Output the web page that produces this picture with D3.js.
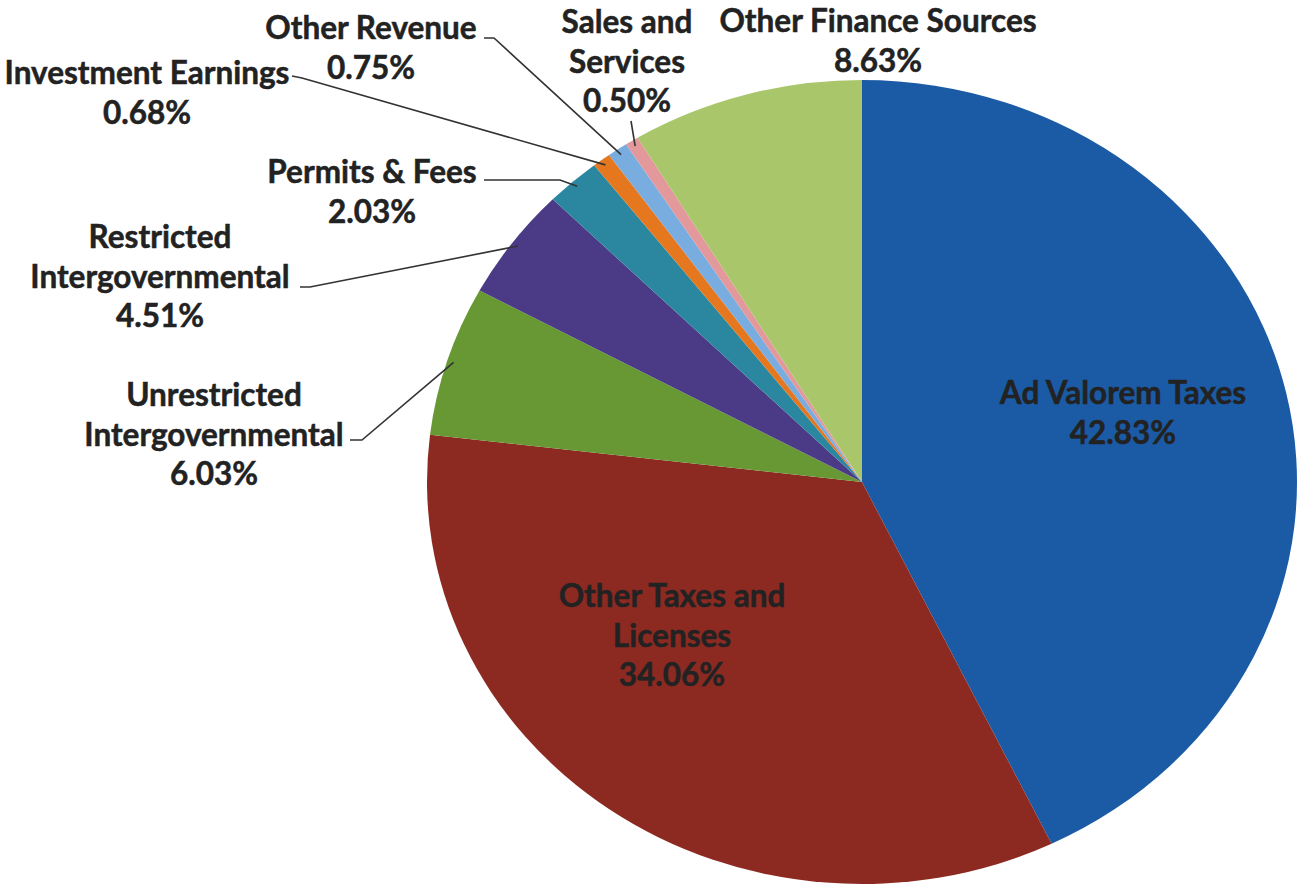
<!DOCTYPE html>
<html>
<head>
<meta charset="utf-8">
<script src="https://cdn.jsdelivr.net/npm/d3@7"></script>
<style>
  body { margin: 0; background: #fff; }
  text { font-family: Lato, "Open Sans", sans-serif; font-weight: 700; fill: #222; stroke: #222; stroke-width: 0.5px; }
</style>
</head>
<body>
<script>
// data
var categories = ["Ad Valorem Taxes", "Other Taxes and Licenses", "Unrestricted Intergovernmental",
  "Restricted Intergovernmental", "Permits & Fees", "Investment Earnings", "Other Revenue",
  "Sales and Services", "Other Finance Sources"];
var values = [42.83, 34.06, 6.03, 4.51, 2.03, 0.68, 0.75, 0.50, 8.63];
var labelLines = [
  ["Ad Valorem Taxes"], ["Other Taxes and", "Licenses"], ["Unrestricted", "Intergovernmental"],
  ["Restricted", "Intergovernmental"], ["Permits & Fees"], ["Investment Earnings"],
  ["Other Revenue"], ["Sales and", "Services"], ["Other Finance Sources"]
];
var colors = ["#1b5ba6", "#8c2a22", "#679833", "#4b3b87", "#2a879f", "#e5781f", "#79acdf", "#e3999b", "#a9c66b"];

var w = 1298, h = 887;
var cx = 862, cy = 482, ry = 402, rx = 435;

var svg = d3.select("body").append("svg")
  .attr("width", w).attr("height", h);

var pie = d3.pie().sort(null).value(function(d) { return d; });
var arcs = pie(values);
var arc = d3.arc().innerRadius(0).outerRadius(ry);

// the scan is squashed a little, so the pie is drawn as an ellipse
var g = svg.append("g")
  .attr("transform", "translate(" + cx + "," + cy + ") scale(" + (rx / ry) + ",1)");

g.selectAll("path")
  .data(arcs)
  .enter()
  .append("path")
  .attr("d", arc)
  .attr("fill", function(d, i) { return colors[i]; });

// where each label sits (center x, first baseline y) and the leader elbow, if any
var layout = [
  { x: 1123, y: 404 },
  { x: 672, y: 607 },
  { x: 214, y: 406, elbow: [[350, 440], [362, 440]] },
  { x: 160, y: 248, elbow: [[300, 287], [310, 287]] },
  { x: 372, y: 183, elbow: [[484, 180], [560, 180]] },
  { x: 147, y: 84, elbow: [[292, 76], [302, 78]] },
  { x: 371, y: 39, elbow: [[484, 38], [494, 38]] },
  { x: 627, y: 33, elbow: [[631, 121], [631, 121]] },
  { x: 878, y: 32 }
];
var lineH = 39.5;

// leader lines from the label elbow to the slice edge
arcs.forEach(function(d, i) {
  var L = layout[i];
  if (!L.elbow) return;
  var a = (d.startAngle + d.endAngle) / 2;
  var ex = cx + Math.sin(a) * rx * 0.985;
  var ey = cy - Math.cos(a) * ry * 0.985;
  var pts = L.elbow.concat([[ex, ey]]);
  svg.append("path")
    .attr("d", d3.line()(pts))
    .attr("fill", "none")
    .attr("stroke", "#333")
    .attr("stroke-width", 1.6);
});

arcs.forEach(function(d, i) {
  var L = layout[i];
  var lines = labelLines[i].concat([values[i].toFixed(2) + "%"]);
  var t = svg.append("text")
    .attr("text-anchor", "middle")
    .style("font-size", "31.5px");
  lines.forEach(function(s, j) {
    t.append("tspan")
      .attr("x", L.x)
      .attr("y", L.y + j * lineH)
      .text(s);
  });
});
</script>
</body>
</html>
